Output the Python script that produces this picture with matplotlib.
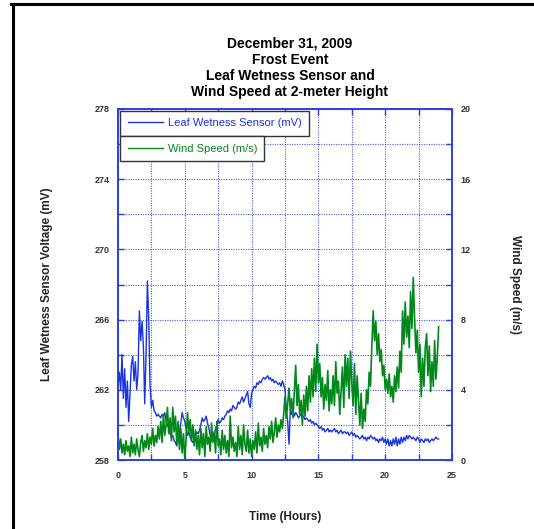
import numpy as np
import matplotlib.pyplot as plt
from matplotlib.lines import Line2D
from matplotlib.ticker import MultipleLocator, FixedLocator

plt.rcParams['font.family'] = ['Liberation Sans', 'DejaVu Sans']

# time axis, hours (6-minute readings)
hours = np.arange(241) / 10.0

# leaf wetness sensor output, mV
leaf_mv = [
    262.2, 263.0, 262.0, 264.0, 261.5, 263.2, 261.0, 262.5, 260.2, 261.8, 263.4,
    263.9, 262.5, 263.6, 262.0, 263.0, 266.5, 264.8, 265.9, 264.5, 261.2,
    264.0, 268.2, 266.0, 262.2, 261.0, 261.4, 260.8, 260.7, 260.5, 260.6,
    260.5, 260.4, 260.6, 260.5, 260.7, 260.2, 260.0, 259.8, 259.5, 259.3,
    259.4, 259.1, 259.0, 258.8, 259.2, 259.6, 260.1, 260.7, 260.4, 260.2,
    259.8, 259.4, 259.6, 259.3, 259.1, 259.0, 259.2, 259.4, 259.6, 259.5,
    259.7, 260.0, 260.4, 260.2, 260.3, 260.5, 260.1, 259.8, 259.4, 259.1,
    259.2, 259.4, 259.8, 260.0, 260.3, 260.1, 260.2, 260.4, 260.3, 260.5,
    260.6, 260.8, 260.7, 260.9, 260.8, 261.1, 261.0, 260.9, 261.0, 261.3,
    261.2, 261.4, 261.6, 261.3, 261.5, 261.7, 261.9, 261.2, 261.0, 261.8,
    262.0, 262.2, 262.1, 262.4, 262.3, 262.5, 262.4, 262.6, 262.7, 262.6,
    262.7, 262.8, 262.6, 262.7, 262.5, 262.6, 262.4, 262.5, 262.4, 262.3,
    262.4, 262.2, 262.5, 262.3, 262.0, 260.8, 260.2, 258.9, 260.9, 260.6,
    260.8, 260.5, 260.7, 260.6, 260.4, 260.5, 260.6, 260.4, 260.5, 260.3,
    260.4, 260.3, 260.2, 260.3, 260.1, 260.2, 260.0, 260.1, 260.0, 259.9,
    259.8, 259.9, 259.7, 259.8, 259.6, 259.7, 259.8, 259.6, 259.7, 259.6,
    259.7, 259.8, 259.6, 259.7, 259.5, 259.6, 259.7, 259.5, 259.6, 259.6,
    259.5, 259.6, 259.4, 259.5, 259.6, 259.4, 259.5, 259.3, 259.4, 259.3,
    259.2, 259.3, 259.4, 259.2, 259.3, 259.1, 259.3, 259.2, 259.4, 259.3,
    259.2, 259.3, 259.1, 259.2, 259.0, 259.2, 259.1, 259.3, 259.0, 259.2,
    258.9, 259.2, 258.8, 259.1, 258.8, 259.2, 258.9, 259.3, 258.8, 259.2,
    258.9, 259.3, 259.0, 259.3, 259.1, 259.4, 259.2, 259.4, 259.3, 259.2,
    259.3, 259.2, 259.1, 259.3, 259.2, 259.0, 259.2, 259.1, 259.0, 259.2,
    259.1, 259.2, 259.0, 259.1, 259.2, 259.1, 259.2, 259.3, 259.2, 259.2,
]

# wind speed at 2 m, m/s
wind_ms = [
    1.5, 0.6, 1.2, 0.4, 0.9, 0.3, 1.1, 0.5, 0.8, 0.2, 1.3,
    0.4, 0.9, 0.3, 1.2, 0.6, 0.2, 1.0, 1.4, 0.5, 1.1,
    0.7, 1.5, 0.6, 1.3, 0.9, 1.8, 0.8, 1.4, 1.0, 1.9,
    1.2, 2.2, 1.0, 2.6, 1.4, 2.0, 3.0, 1.5, 2.4, 1.1,
    3.0, 1.6, 2.5, 0.9, 2.2, 0.6, 1.8, 0.4, 1.5, 0.0,
    1.2, 2.7, 1.6, 2.3, 1.1, 2.0, 0.8, 1.7, 0.6, 1.4,
    0.3, 1.8, 0.7, 1.5, 0.2, 1.9, 0.9, 1.3, 0.5, 2.1,
    1.0, 1.6, 0.4, 2.2, 0.8, 1.2, 0.3, 1.7, 0.6, 1.4,
    0.4, 1.1, 0.2, 2.5, 0.7, 1.3, 0.5, 1.0, 0.2, 1.9,
    0.6, 1.4, 0.3, 2.0, 0.9, 0.5, 1.7, 0.4, 1.2, 0.2,
    1.1, 0.6, 1.6, 0.4, 2.1, 0.8, 1.3, 0.5, 1.8, 0.9,
    1.4, 0.7, 1.9, 1.2, 2.2, 1.0, 1.6, 2.4, 1.3, 2.0,
    1.6, 2.3, 1.8, 2.6, 3.6, 2.4, 3.2, 4.1, 2.8, 3.5,
    2.4, 3.9, 5.4, 3.1, 4.3, 2.6, 3.4, 2.0, 3.7, 2.5,
    4.2, 2.8, 4.8, 3.3, 5.2, 3.6, 5.8, 3.9, 6.6, 4.4,
    5.5, 3.6, 4.7, 2.9, 4.3, 3.4, 5.1, 2.8, 4.0, 3.2,
    4.8, 3.1, 5.6, 3.8, 4.5, 2.6, 3.9, 5.3, 3.0, 6.0,
    4.2, 5.8, 3.5, 6.2, 4.4, 3.1, 5.5, 2.6, 4.8, 3.4,
    2.0, 3.8, 1.8, 2.9, 2.2, 4.0, 3.2, 5.0, 4.2, 6.5,
    8.5, 6.8, 7.9, 6.0, 7.2, 5.6, 6.3, 4.8, 5.4, 4.0,
    4.6, 3.8, 4.9, 3.6, 4.2, 3.3, 4.8, 3.9, 5.3, 4.1,
    6.2, 5.0, 8.5, 6.6, 9.0, 7.0, 8.2, 6.4, 9.6, 7.5,
    10.4, 8.0, 6.1, 7.4, 5.0, 6.6, 3.6, 5.8, 4.2, 6.4,
    7.2, 4.8, 6.5, 3.9, 5.6, 4.2, 6.8, 4.6, 5.9, 7.6,
]

leaf_ticks = [258, 262, 266, 270, 274, 278]
wind_ticks = [0, 4, 8, 12, 16, 20]
hour_ticks = [0, 5, 10, 15, 20, 25]

BLUE = '#1a33e0'
GREEN = '#00881a'
AXIS = '#2a3ee6'
TICKTXT = '#333333'

fig = plt.figure(figsize=(5.34, 5.29), dpi=100)
ax = fig.add_axes([118 / 534, 1 - 460 / 529, 334 / 534, 351 / 529])
ax2 = ax.twinx()

ax.set_xlim(0, 25)
ax.set_ylim(258, 278)
ax2.set_ylim(0, 20)

ax.xaxis.set_major_locator(FixedLocator(hour_ticks))
ax.xaxis.set_minor_locator(MultipleLocator(2.5))
ax.yaxis.set_major_locator(FixedLocator(leaf_ticks))
ax.yaxis.set_minor_locator(MultipleLocator(2))
ax2.yaxis.set_major_locator(FixedLocator(wind_ticks))
ax2.yaxis.set_minor_locator(MultipleLocator(2))

ax.grid(True, which='both', linestyle=(0, (1, 1.2)), color=AXIS, linewidth=0.8, alpha=0.85)
ax.set_axisbelow(True)

for a in (ax, ax2):
    for s in a.spines.values():
        s.set_color(AXIS)
        s.set_linewidth(1.2)
    a.tick_params(which='both', direction='in', color=AXIS, width=1.0, length=4,
                  labelsize=6.5, labelcolor=TICKTXT, pad=6)
ax.tick_params(which='both', top=True)
ax.tick_params(axis='x', pad=8)
for lbl in ax.get_xticklabels() + ax.get_yticklabels() + ax2.get_yticklabels():
    lbl.set_fontweight('bold')

ax.plot(hours, leaf_mv, color=BLUE, linewidth=1.0, zorder=3)
ax2.plot(hours, wind_ms, color=GREEN, linewidth=1.2)

ax.set_xlabel('Time (Hours)', fontsize=8.5, fontweight='bold', color='#222222', labelpad=22)
ax.set_ylabel('Leaf Wetness Sensor Voltage (mV)', fontsize=8.5, fontweight='bold',
              color='#222222', labelpad=30)
ax2.set_ylabel('Wind Speed (m/s)', fontsize=8.5, fontweight='bold', color='#222222',
               rotation=270, labelpad=36)

fig.text(0.543, 1 - 68 / 529, 'December 31, 2009\nFrost Event\nLeaf Wetness Sensor and\n'
         'Wind Speed at 2-meter Height', ha='center', va='center', fontsize=10,
         fontweight='bold', linespacing=1.2)

# two stacked legend boxes, each sized to its own label
leg_kw = dict(loc='upper left', fontsize=8, handlelength=3.2, handletextpad=0.4,
              borderaxespad=0, fancybox=False, framealpha=1, edgecolor='#333333',
              borderpad=0.65)
h1 = Line2D([], [], color=BLUE, linewidth=1.0)
h2 = Line2D([], [], color=GREEN, linewidth=1.0)
leg1 = ax2.legend([h1], ['Leaf Wetness Sensor (mV)'], bbox_to_anchor=(0.007, 0.994),
                  labelcolor=BLUE, **leg_kw)
ax2.add_artist(leg1)
ax2.legend([h2], ['Wind Speed (m/s)'], bbox_to_anchor=(0.007, 0.922),
           labelcolor=GREEN, **leg_kw)

# frame edges along the left and top
fig.add_artist(Line2D([12.5 / 534, 12.5 / 534], [0, 1 - 3.5 / 529], color='black', linewidth=2.2))
fig.add_artist(Line2D([11 / 534, 1], [1 - 3.5 / 529, 1 - 3.5 / 529], color='black', linewidth=2.2))

fig.savefig('out.png', dpi=100)
